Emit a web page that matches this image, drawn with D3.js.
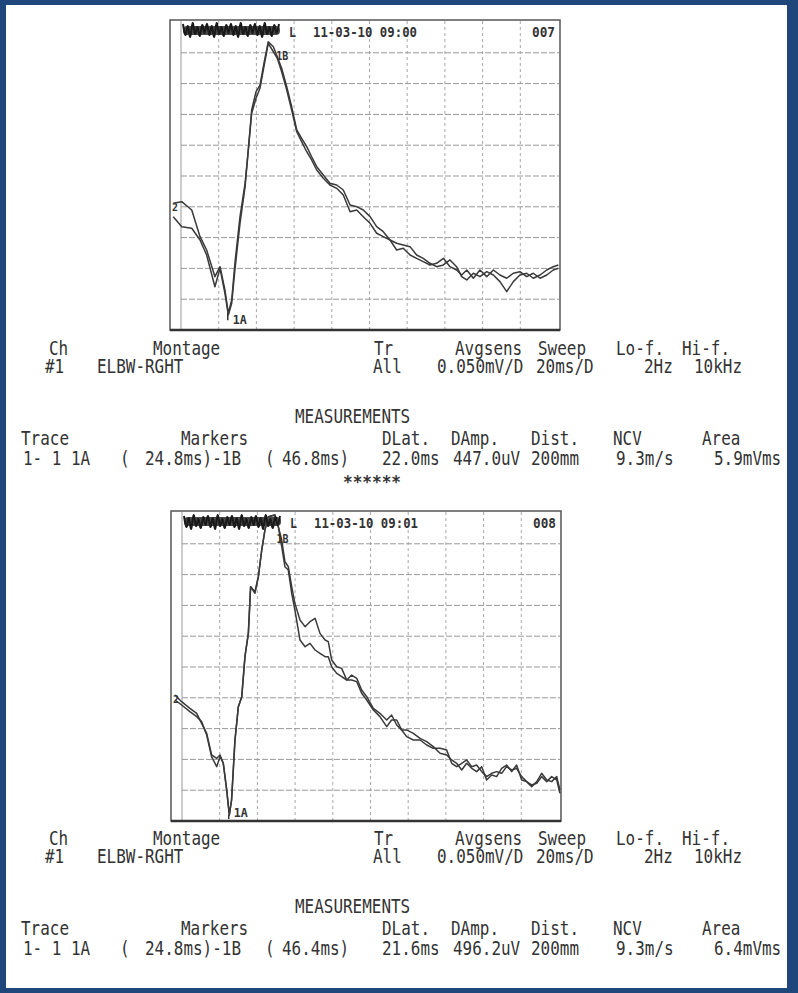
<!DOCTYPE html>
<html>
<head>
<meta charset="utf-8">
<script src="https://cdn.jsdelivr.net/npm/d3@7"></script>
<style>
  body { margin: 0; background: #fff; }
  svg { display: block; }
</style>
</head>
<body>
<div id="canvas"></div>
<script>
// -------------------------------------------- Data

// recording 007 (ms / uV)
const times1 = [-4.1, 0.4, 5.7, 10.1, 13.6, 18.0, 20.7, 23.3, 25.1, 26.9, 28.6, 31.3, 34.0, 35.7, 37.5, 39.8, 41.9, 44.0, 46.3, 49.0,
  51.1, 53.4, 56.1, 58.7, 61.4, 64.0, 66.7, 69.3, 72.0, 75.5, 79.0, 82.6, 86.1, 89.7, 93.2, 96.7, 100.3, 103.8, 107.3, 110.9,
  114.4, 117.9, 121.5, 125.0, 128.5, 132.1, 135.6, 139.2, 142.7, 146.2, 148.9, 151.6, 155.1, 158.6, 162.2, 165.7, 169.2, 172.8,
  176.3, 179.8, 183.4, 186.9, 190.5, 194.0, 197.5, 200.2];
const trace1a = [-44.3, -41.7, -55.2, -98.5, -120.1, -163.4, -147.2, -185.0, -222.8, -201.3, -141.7, -66.0, -11.8, 42.2, 107.1,
  136.8, 147.7, 182.9, 218.0, 209.9, 193.6, 174.8, 144.9, 112.5, 74.7, 61.2, 47.6, 31.3, 15.1, 1.6, -11.8, -14.6, -22.7, -47.1,
  -49.8, -55.2, -66.0, -82.3, -90.4, -103.9, -109.2, -112.0, -114.7, -128.2, -133.6, -141.7, -147.2, -144.4, -136.3, -147.2,
  -163.4, -168.8, -157.9, -163.4, -155.3, -160.7, -171.5, -187.8, -171.5, -160.7, -157.9, -166.0, -160.7, -152.6, -147.2, -144.4];
const trace1b = [-66.0, -82.3, -84.9, -103.9, -128.2, -179.7, -149.8, -190.4, -225.6, -206.6, -152.6, -76.8, -17.4, 42.2, 101.8,
  126.1, 142.3, 177.4, 215.4, 201.7, 191.0, 169.3, 139.6, 107.1, 71.9, 55.7, 39.4, 26.0, 9.7, -3.7, -14.6, -20.0, -30.8, -57.9,
  -55.2, -66.0, -76.8, -93.0, -98.5, -103.9, -120.1, -117.3, -128.2, -133.6, -139.1, -144.4, -141.7, -133.6, -147.2, -152.6,
  -160.7, -152.6, -166.0, -152.6, -163.4, -152.6, -160.7, -166.0, -157.9, -155.3, -163.4, -157.9, -166.0, -160.7, -152.6, -149.8];

// recording 008 (ms / uV)
const times2 = [-3.7, -0.2, 4.2, 7.8, 10.4, 13.1, 15.7, 18.4, 20.2, 21.9, 23.7, 25.1, 26.3, 28.1, 29.9, 31.7, 33.4, 35.2, 36.4,
  38.7, 40.5, 42.3, 44.0, 45.8, 49.3, 51.1, 52.9, 54.6, 56.4, 58.2, 59.9, 62.6, 65.3, 67.9, 70.6, 73.2, 75.9, 77.6, 79.4, 82.1,
  84.7, 87.4, 90.0, 92.7, 95.3, 98.0, 101.5, 105.0, 108.6, 111.2, 113.9, 116.5, 119.2, 122.7, 126.3, 129.8, 133.3, 136.9, 140.4,
  143.1, 145.7, 148.4, 151.0, 153.7, 156.3, 159.0, 161.6, 164.3, 166.9, 169.6, 172.2, 174.9, 177.5, 180.2, 182.8, 185.5, 188.2,
  190.8, 193.5, 196.1, 198.8, 200.5];
const trace2a = [-45.4, -56.3, -67.1, -75.2, -91.4, -107.7, -142.8, -148.2, -142.8, -156.3, -199.6, -240.2, -215.9, -118.5, -64.4,
  -48.2, 16.8, 54.6, 130.4, 122.3, 146.6, 189.9, 222.4, 244.0, 246.7, 227.8, 195.3, 162.8, 157.4, 119.6, 92.5, 43.8, 33.0, 38.4,
  27.6, 22.2, 16.8, 16.8, 0.5, -10.3, -15.7, -21.1, -21.1, -23.8, -42.7, -53.6, -69.8, -80.6, -96.8, -86.0, -86.0, -102.2, -113.1,
  -118.5, -118.5, -126.6, -132.0, -132.0, -134.7, -156.3, -161.8, -156.3, -150.9, -161.8, -159.1, -169.9, -178.0, -172.6, -169.9,
  -172.6, -161.8, -167.2, -164.5, -178.0, -186.1, -194.2, -186.1, -172.6, -183.4, -186.1, -178.0, -199.6];
const trace2b = [-53.6, -61.7, -72.5, -80.6, -88.7, -110.4, -145.5, -161.8, -145.5, -156.3, -199.6, -240.2, -215.9, -118.5, -64.4,
  -48.2, 16.8, 54.6, 130.4, 119.6, 146.6, 189.9, 222.4, 244.0, 246.7, 227.8, 206.1, 171.0, 162.8, 130.4, 103.3, 76.3, 65.5, 73.6,
  79.0, 54.6, 43.8, 41.1, 11.4, 0.5, -2.2, -21.1, -13.0, -18.4, -37.3, -48.2, -67.1, -75.2, -86.0, -77.9, -94.1, -102.2, -102.2,
  -107.7, -115.8, -121.2, -129.3, -140.1, -142.8, -150.9, -156.3, -167.2, -156.3, -164.5, -169.9, -161.8, -183.4, -175.3, -178.0,
  -164.5, -159.1, -169.9, -159.1, -183.4, -186.1, -191.5, -188.8, -178.0, -186.1, -178.0, -183.4, -205.0];

// header texts
const stamps = ["11-03-10 09:00", "11-03-10 09:01"];
const recNumbers = ["007", "008"];
const markerA = [24.8, 24.8];
const markerB = [46.8, 46.4];

const settingHeads = ["Ch", "Montage", "Tr", "Avgsens", "Sweep", "Lo-f.", "Hi-f."];
const settingVals = ["#1", "ELBW-RGHT", "All", "0.050mV/D", "20ms/D", "2Hz", "10kHz"];
const measureHeads = ["Trace", "Markers", "DLat.", "DAmp.", "Dist.", "NCV", "Area"];
const measureVals1 = ["1- 1 1A", "(", "24.8ms)-1B", "(", "46.8ms)", "22.0ms", "447.0uV", "200mm", "9.3m/s", "5.9mVms"];
const measureVals2 = ["1- 1 1A", "(", "24.8ms)-1B", "(", "46.4ms)", "21.6ms", "496.2uV", "200mm", "9.3m/s", "6.4mVms"];

// -------------------------------------------- Lienzo
const width = 798;
const height = 993;
const canvas = d3.select("#canvas");
const svg = canvas.append("svg").attr("width", width).attr("height", height);

svg.append("rect").attr("width", width).attr("height", height).attr("fill", "#1f477c");
svg.append("rect").attr("x", 6).attr("y", 5).attr("width", 781).attr("height", 983).attr("fill", "#fff");

// ----- layout
const boxW = 390;
const boxH = 310;
const panelPos = [[170, 20], [171, 511]];
const textDy = [0, 490];
const mono = "'DejaVu Sans Mono', monospace";
const charW = 9.6;

const headX = [49, 153, 374, 455, 538, 616, 682];
const settingX = [45, 97, 373, 437, 536, 644, 694];
const measureHeadX = [21, 181, 382, 451, 531, 613, 702];
const measureValX = [23, 120, 145, 265, 282, 382, 453, 531, 616, 714];

const x = d3.scaleLinear().domain([0, 200]).range([11, 388]);
const y = d3.scaleLinear().domain([-250, 250]).range([310, 2]);

const line = d3
  .line()
  .x((d) => x(d.t))
  .y((d) => y(d.v));

const panels = [
  { times: times1, traces: [trace1a, trace1b] },
  { times: times2, traces: [trace2a, trace2b] },
];

// -------------------------------------------- Graficos
panels.forEach((p, i) => {
  const g = svg
    .append("g")
    .attr("transform", `translate(${panelPos[i][0]},${panelPos[i][1]})`);

  g.append("clipPath")
    .attr("id", "clip" + i)
    .append("rect")
    .attr("width", boxW)
    .attr("height", boxH);

  // -- grid
  g.selectAll(".vgrid")
    .data(d3.range(20, 200, 20))
    .enter()
    .append("line")
    .attr("x1", (d) => x(d))
    .attr("x2", (d) => x(d))
    .attr("y1", 1)
    .attr("y2", boxH - 1)
    .attr("stroke", "#a8a8a8")
    .attr("stroke-dasharray", "3,3");

  g.selectAll(".hgrid")
    .data(d3.range(-200, 201, 50))
    .enter()
    .append("line")
    .attr("x1", x(0))
    .attr("x2", boxW - 1)
    .attr("y1", (d) => y(d))
    .attr("y2", (d) => y(d))
    .attr("stroke", "#999")
    .attr("stroke-dasharray", "6,2");

  g.append("line")
    .attr("x1", x(0))
    .attr("x2", x(0))
    .attr("y1", 1)
    .attr("y2", boxH)
    .attr("stroke", "#999");

  // -- box
  g.append("rect")
    .attr("width", boxW)
    .attr("height", boxH)
    .attr("fill", "none")
    .attr("stroke", "#555")
    .attr("stroke-width", 1.5);
  g.append("line")
    .attr("x1", 0)
    .attr("x2", boxW)
    .attr("y1", boxH)
    .attr("y2", boxH)
    .attr("stroke", "#333")
    .attr("stroke-width", 2.5);

  // -- traces
  p.traces.forEach((tr) => {
    g.append("path")
      .datum(p.times.map((t, k) => ({ t: t, v: tr[k] })))
      .attr("clip-path", `url(#clip${i})`)
      .attr("d", line)
      .attr("fill", "none")
      .attr("stroke", "#3a3a3a")
      .attr("stroke-width", 1.5)
      .attr("stroke-linejoin", "round");
  });

  // -- scribble over the patient name
  const amp = [4, 15, 6, 17, 3, 14, 7, 16, 5, 13];
  const scr = [];
  for (let k = 0; k <= 40; k++) scr.push([13 + k * 2.4, amp[k % amp.length] + (i ? 1 : 0)]);
  g.append("rect")
    .attr("x", 13)
    .attr("y", 6)
    .attr("width", 97)
    .attr("height", 9)
    .attr("rx", 4)
    .attr("fill", "#4a4a4a");
  g.append("path")
    .attr("d", d3.line().curve(d3.curveCardinal)(scr))
    .attr("fill", "none")
    .attr("stroke", "#1a1a1a")
    .attr("stroke-width", 2);

  // -- stamp
  const small = { "font-family": mono, "font-weight": "bold", "font-size": 13.5, fill: "#333" };
  const st = g.append("g");
  const addSmall = (tx, xx, yy, n) => {
    const t = st.append("text").attr("x", xx).attr("y", yy).text(tx);
    Object.entries(small).forEach(([k, v]) => t.attr(k, v));
    t.attr("textLength", n).attr("lengthAdjust", "spacingAndGlyphs");
    return t;
  };
  addSmall("L", 119, 17, 7);
  addSmall(stamps[i], 143, 17, 104);
  addSmall(recNumbers[i], 362, 17, 23);
  addSmall("2", 2, y(p.traces[0][0]) + 8, 6).attr("font-size", 11);

  // -- markers
  const vMin = d3.min(p.traces[0]);
  const vMax = d3.max(p.traces[0]);
  g.append("line")
    .attr("x1", x(markerA[i]))
    .attr("x2", x(markerA[i]))
    .attr("y1", y(vMin))
    .attr("y2", Math.min(y(vMin) + 7, boxH - 2))
    .attr("stroke", "#333")
    .attr("stroke-width", 1.5);
  addSmall("1A", x(markerA[i]) + 5, Math.min(y(vMin) + 11, 306), 14).attr("font-size", 12);
  addSmall("1B", x(markerB[i]) + 7, Math.max(y(vMax) + 18, 32), 12).attr("font-size", 12);

  // -------------------------------------------- Textos
  const tg = svg.append("g").attr("transform", `translate(0,${textDy[i]})`);
  const row = (arr, xs, yy) => {
    tg.selectAll(null)
      .data(arr)
      .enter()
      .append("text")
      .attr("x", (d, k) => xs[k])
      .attr("y", yy)
      .attr("font-family", mono)
      .attr("font-size", 20)
      .attr("fill", "#333")
      .attr("xml:space", "preserve")
      .attr("textLength", (d) => d.length * charW)
      .attr("lengthAdjust", "spacingAndGlyphs")
      .text((d) => d);
  };
  row(settingHeads, headX, 355);
  row(settingVals, settingX, 373);
  row(["MEASUREMENTS"], [295], 423);
  row(measureHeads, measureHeadX, 445);
  row(i === 0 ? measureVals1 : measureVals2, measureValX, 465);
  if (i === 0) {
    tg.append("text")
      .attr("x", 343)
      .attr("y", 488)
      .attr("font-family", mono)
      .attr("font-weight", "bold")
      .attr("font-size", 18)
      .attr("fill", "#333")
      .attr("textLength", 58)
      .attr("lengthAdjust", "spacingAndGlyphs")
      .text("******");
  }
});
</script>
</body>
</html>
